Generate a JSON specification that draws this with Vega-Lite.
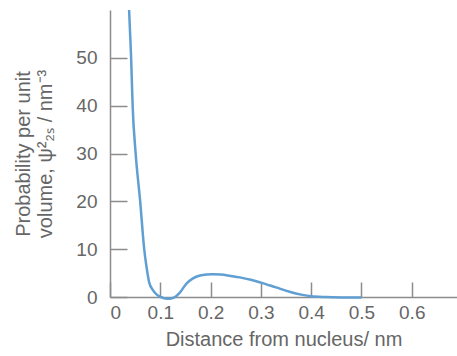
{
  "$schema": "https://vega.github.io/schema/vega-lite/v6.json",
  "width": 347,
  "height": 287,
  "autosize": {"type": "none"},
  "padding": {"left": 110, "top": 10, "right": 0, "bottom": 59},
  "background": "white",
  "config": {
    "view": {"stroke": null},
    "axis": {"grid": false, "domainColor": "#8c8c8c", "tickColor": "#8c8c8c", "domainWidth": 1.5, "tickWidth": 1.5,
      "labelFont": "Liberation Sans", "titleFont": "Liberation Sans", "labelColor": "#666666", "titleColor": "#666666",
      "labelFontSize": 19, "titleFontSize": 20, "titleFontWeight": "normal"}
  },
  "data": {"values": [
    {"r": 0.038, "p": 60},
    {"r": 0.040, "p": 55},
    {"r": 0.042, "p": 50},
    {"r": 0.045, "p": 40},
    {"r": 0.051, "p": 30},
    {"r": 0.060, "p": 20},
    {"r": 0.068, "p": 10},
    {"r": 0.073, "p": 6},
    {"r": 0.078, "p": 3},
    {"r": 0.085, "p": 1.5},
    {"r": 0.093, "p": 0.5},
    {"r": 0.101, "p": 0},
    {"r": 0.110, "p": -0.3},
    {"r": 0.119, "p": -0.35},
    {"r": 0.128, "p": -0.1},
    {"r": 0.138, "p": 0.8},
    {"r": 0.152, "p": 2.8},
    {"r": 0.165, "p": 3.9},
    {"r": 0.179, "p": 4.5},
    {"r": 0.192, "p": 4.7},
    {"r": 0.205, "p": 4.75},
    {"r": 0.220, "p": 4.7},
    {"r": 0.240, "p": 4.4},
    {"r": 0.258, "p": 4.1},
    {"r": 0.280, "p": 3.6},
    {"r": 0.300, "p": 3.0},
    {"r": 0.330, "p": 2.0},
    {"r": 0.357, "p": 1.1},
    {"r": 0.380, "p": 0.5},
    {"r": 0.400, "p": 0.15},
    {"r": 0.430, "p": 0.0},
    {"r": 0.470, "p": -0.1},
    {"r": 0.500, "p": -0.1}
  ]},
  "mark": {"type": "line", "interpolate": "monotone", "color": "#5f9fd3", "strokeWidth": 2.5, "clip": false},
  "encoding": {
    "x": {"field": "r", "type": "quantitative",
      "scale": {"domain": [0, 0.69], "nice": false, "zero": false},
      "axis": {"values": [0, 0.1, 0.2, 0.3, 0.4, 0.5, 0.6], "tickSize": -15, "labelPadding": 21,
        "labelExpr": "datum.value == 0 ? '0' : format(datum.value, '.1f')",
        "title": "Distance from nucleus/ nm", "titlePadding": 7}},
    "y": {"field": "p", "type": "quantitative",
      "scale": {"domain": [0, 60], "nice": false, "zero": false},
      "axis": {"values": [0, 10, 20, 30, 40, 50], "tickSize": -17, "labelPadding": 30,
        "title": ["Probability per unit", "volume, ψ²₂ₛ / nm⁻³"], "titlePadding": 20}}
  }
}
